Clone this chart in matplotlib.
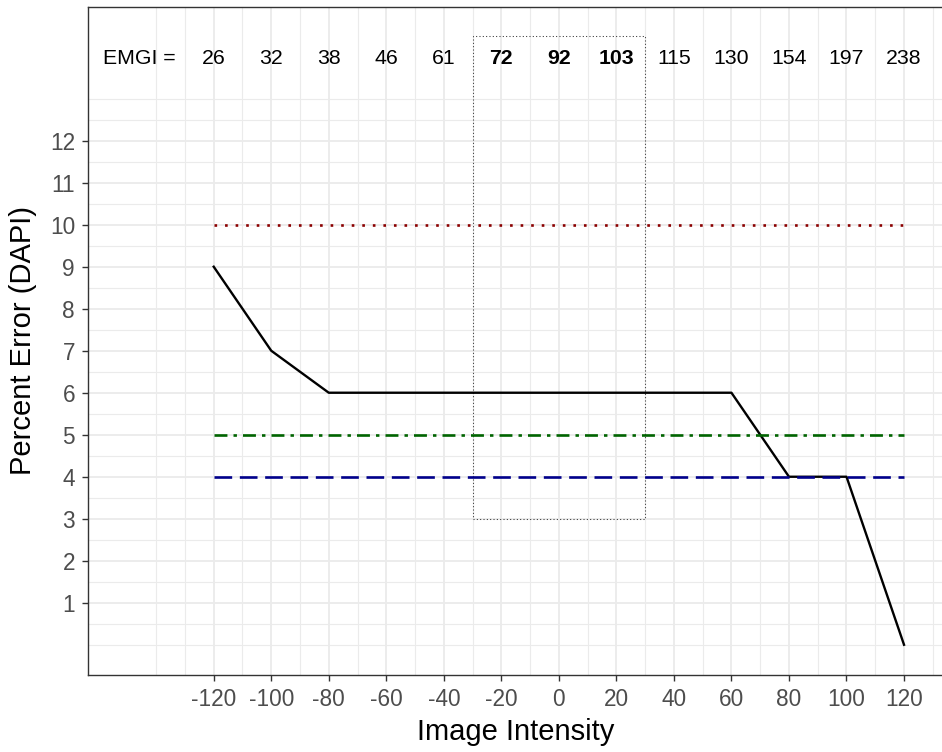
import matplotlib
matplotlib.use("Agg")
import matplotlib.pyplot as plt
from matplotlib.patches import Rectangle
import numpy as np

# data
intensity = [-120, -100, -80, -60, -40, -20, 0, 20, 40, 60, 80, 100, 120]
pct_error = [9, 7, 6, 6, 6, 6, 6, 6, 6, 6, 4, 4, 0]
emgi = [26, 32, 38, 46, 61, 72, 92, 103, 115, 130, 154, 197, 238]
bold_emgi = [72, 92, 103]
ref_x = [-120, 120]
ref_red = [10, 10]
ref_green = [5, 5]
ref_blue = [4, 4]
box_x = [-30, 30]
box_y = [3, 14.5]
y_ticks = list(range(1, 13))

plt.rcParams['font.family'] = ['Liberation Sans', 'DejaVu Sans']

fig = plt.figure(figsize=(9.42, 7.52), dpi=100)
ax = fig.add_axes([0.09374, 0.10239, 0.909, 0.8887])
ax.set_xlim(-163.6, 134.1)
ax.set_ylim(-0.72, 15.19)

# ggplot-like grid
grid_col = '#EBEBEB'
for gx in np.arange(-140, 131, 10):
    major = gx in intensity
    ax.axvline(gx, color=grid_col, lw=1.3 if major else 0.8, zorder=0)
for gy in np.arange(0, 13.01, 0.5):
    major = gy in y_ticks
    ax.axhline(gy, color=grid_col, lw=1.3 if major else 0.8, zorder=0)

# highlighted window
ax.add_patch(Rectangle((box_x[0], box_y[0]), box_x[1] - box_x[0], box_y[1] - box_y[0],
                       fill=False, ec='#333333', lw=0.75, ls=(0, (1, 2.2)), zorder=1))

ax.plot(intensity, pct_error, color='black', lw=1.7, zorder=2)
ax.plot(ref_x, ref_red, color='#8B0000', lw=1.9, ls=(0, (1, 3)), zorder=3)
ax.plot(ref_x, ref_green, color='#006400', lw=1.9, ls=(0, (4.9, 2.3, 1.3, 2.3)), zorder=3)
ax.plot(ref_x, ref_blue, color='#00008B', lw=1.9, ls=(0, (6.7, 2.9)), zorder=3)

# EMGI row
ax.text(-146, 14, 'EMGI =', ha='center', va='center_baseline', fontsize=15.3)
for x, v in zip(intensity, emgi):
    ax.text(x, 14, str(v), ha='center', va='center_baseline', fontsize=15.3,
            fontweight='bold' if v in bold_emgi else 'normal')

ax.set_xticks(intensity)
ax.set_xticklabels([str(v) for v in intensity])
ax.set_yticks(y_ticks)
ax.tick_params(axis='both', length=4, width=1.0, color='#333333',
               labelsize=16.3, labelcolor='#4D4D4D', pad=5.5)

for s in ax.spines.values():
    s.set_color('#333333')
    s.set_linewidth(1.0)

ax.set_xlabel('Image Intensity', fontsize=21)
ax.set_ylabel('Percent Error (DAPI)', fontsize=21)
ax.xaxis.set_label_coords(0.5 * 0.9071 / 0.909, -0.0643)
ax.yaxis.set_label_coords(-0.060, 0.5)

fig.savefig('out.png', dpi=100)
